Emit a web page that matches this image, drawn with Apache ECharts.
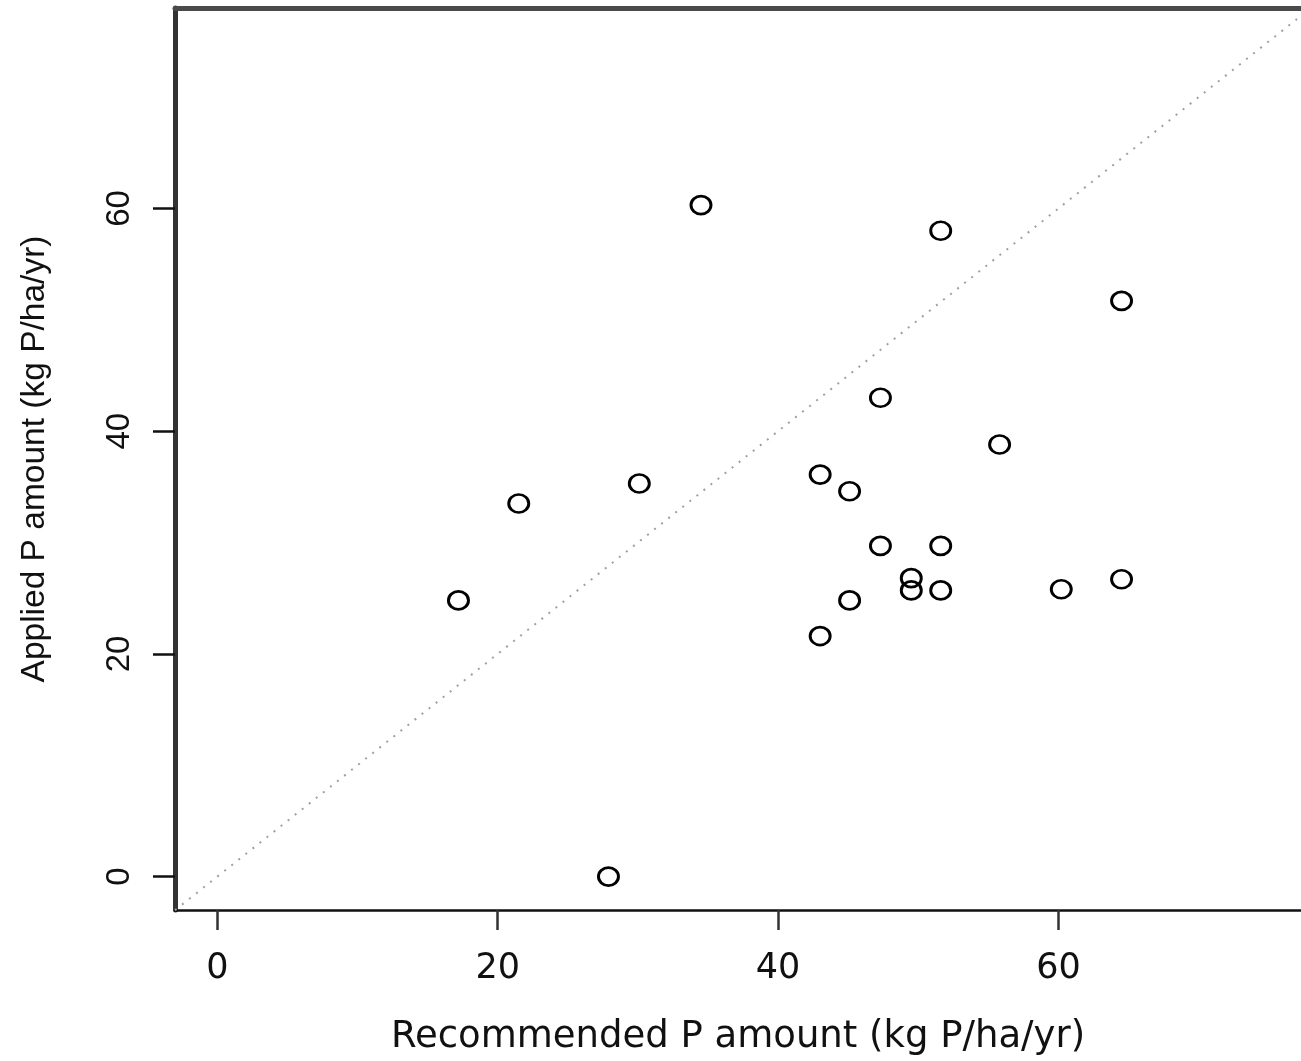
<!DOCTYPE html>
<html><head><meta charset="utf-8">
<script src="https://cdn.jsdelivr.net/npm/echarts@6/dist/echarts.min.js"></script>
<style>html,body{margin:0;padding:0;background:#fff}#chart{width:1301px;height:1061px}</style>
</head><body><div id="chart"></div>
<script>
// Data
const recommendedP = [34.5, 51.6, 64.5, 47.3, 55.8, 43.0, 45.1, 30.1, 21.5, 47.3, 51.6, 49.5, 49.5, 51.6, 60.2, 64.5, 45.1, 17.2, 43.0, 27.9];
const appliedP     = [60.3, 58.0, 51.7, 43.0, 38.8, 36.1, 34.6, 35.3, 33.5, 29.7, 29.7, 26.8, 25.7, 25.7, 25.8, 26.7, 24.8, 24.8, 21.6, 0.0];
const xTicks = [0, 20, 40, 60];
const yTicks = [0, 20, 40, 60];
const xTitle = 'Recommended P amount (kg P/ha/yr)';
const yTitle = 'Applied P amount (kg P/ha/yr)';
const xRange = [-3.02, 77.3];
const yRange = [-3, 78];

const points = recommendedP.map((x, i) => [x, appliedP[i]]);
const lo = Math.min(xRange[0], yRange[0]);
const hi = Math.max(xRange[1], yRange[1]);
const identityLine = [[lo, lo], [hi, hi]];

const chart = echarts.init(document.getElementById('chart'), null, {renderer: 'canvas'});
chart.setOption({
  animation: false,
  backgroundColor: '#fff',
  grid: {left: 175, top: 8, right: 0, bottom: 143, containLabel: false},
  xAxis: [{
    type: 'value', min: xRange[0], max: xRange[1], position: 'bottom',
    axisLine: {show: true, onZero: false, lineStyle: {color: '#111', width: 2.5}},
    axisTick: {show: true, customValues: xTicks, length: 20, lineStyle: {color: '#333', width: 2.5}},
    axisLabel: {show: true, customValues: xTicks, margin: 41, color: '#111',
      fontFamily: 'DejaVu Sans', fontSize: 35},
    splitLine: {show: false},
    name: xTitle, nameLocation: 'middle', nameGap: 109,
    nameTextStyle: {fontFamily: 'DejaVu Sans', fontSize: 37, color: '#111'}
  }, {
    type: 'value', min: xRange[0], max: xRange[1], position: 'top',
    axisLine: {show: true, onZero: false, lineStyle: {color: '#4a4a4a', width: 5}},
    axisTick: {show: false}, axisLabel: {show: false}, splitLine: {show: false}
  }],
  yAxis: {
    type: 'value', min: yRange[0], max: yRange[1], position: 'left',
    axisLine: {show: true, onZero: false, lineStyle: {color: '#333', width: 5}},
    axisTick: {show: true, customValues: yTicks, length: 22, lineStyle: {color: '#111', width: 2.5}},
    axisLabel: {show: true, customValues: yTicks, rotate: 90, margin: 39, color: '#111',
      fontFamily: 'Liberation Sans', fontSize: 33},
    splitLine: {show: false},
    name: yTitle, nameLocation: 'middle', nameRotate: 90, nameGap: 123,
    nameTextStyle: {fontFamily: 'Liberation Sans', fontSize: 33.5, color: '#111'}
  },
  series: [{
    type: 'line', data: identityLine, xAxisIndex: 0, yAxisIndex: 0,
    showSymbol: false, silent: true, z: 1,
    lineStyle: {color: '#a0a0a0', width: 2, type: [2, 7]}
  }, {
    type: 'scatter', data: points, xAxisIndex: 0, yAxisIndex: 0, z: 3,
    symbol: 'circle', symbolSize: [20, 18],
    itemStyle: {color: 'rgba(0,0,0,0)', borderColor: '#000', borderWidth: 2.8, opacity: 1}
  }]
});
</script></body></html>
